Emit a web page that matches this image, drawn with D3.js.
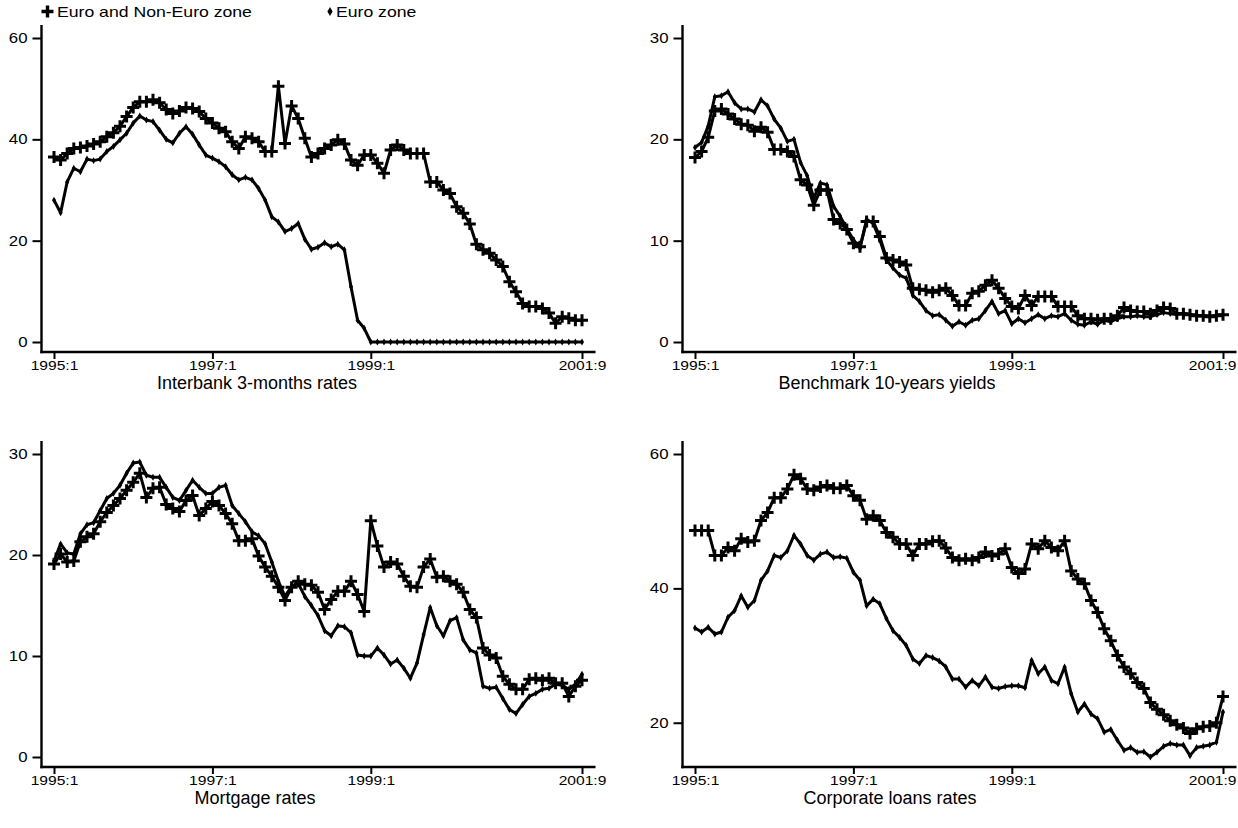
<!DOCTYPE html>
<html><head><meta charset="utf-8">
<script src="https://cdn.jsdelivr.net/npm/d3@7"></script>
<style>
html,body{margin:0;padding:0;background:#fff;}
svg{display:block;font-family:"Liberation Sans",Arial,Helvetica,sans-serif;}
</style></head>
<body><svg id="chart" width="1238" height="828"></svg>
<script>
// ---- data (monthly, 1995:1 .. 2001:9) ----
const seriesNames = ["Euro and Non-Euro zone", "Euro zone"];
const panelTitles = ["Interbank 3-months rates", "Benchmark 10-years yields", "Mortgage rates", "Corporate loans rates"];
const xTickMonths = [0, 24, 48, 80];
const xTickLabels = ["1995:1", "1997:1", "1999:1", "2001:9"];
const yTicksInterbank = [0, 20, 40, 60];
const yTicksBenchmark = [0, 10, 20, 30];
const yTicksMortgage = [0, 10, 20, 30];
const yTicksCorporate = [20, 40, 60];

const interbankAll = [36.5,35.9,37.2,38.2,38.4,38.7,39.1,39.5,40.5,41.3,42.6,44.5,46.3,47.4,47.4,47.8,47.2,45.9,45.1,45.6,46.3,46.1,45.5,44.1,43.2,42.2,41.5,39.5,38.2,40.5,40.2,39.5,37.6,37.6,50.5,39.2,46.6,44.1,40.2,36.5,37.2,38.2,38.9,39.9,39.1,35.9,34.9,36.9,36.9,35.3,33.3,37.9,38.9,37.9,37.2,37.2,37.2,31.6,31.6,30.0,29.3,26.7,25.4,23.3,19.3,18.2,17.5,16.2,14.9,11.9,9.9,7.6,7.0,7.0,6.6,5.7,3.7,5.0,4.7,4.3,4.3];
const interbankEuro = [28.0,25.5,31.6,34.3,33.6,36.1,35.8,36.1,37.6,38.6,39.9,41.2,43.2,44.6,43.8,43.5,41.8,40.0,39.3,41.2,42.5,41.0,38.9,36.9,36.3,35.6,34.6,33.0,32.0,32.5,32.0,30.3,28.0,24.7,23.7,21.8,22.4,23.4,20.3,18.3,18.7,19.6,18.8,19.3,18.2,10.9,4.3,2.7,0,0,0,0,0,0,0,0,0,0,0,0,0,0,0,0,0,0,0,0,0,0,0,0,0,0,0,0,0,0,0,0,0];
const benchmarkAll = [18.2,18.8,20.2,22.8,23.0,22.5,22.0,21.5,21.4,20.8,21.2,20.7,19.0,19.0,18.8,18.3,16.0,15.5,13.5,15.0,15.0,12.1,11.7,11.1,9.75,9.4,11.9,11.9,10.4,8.3,8.1,7.9,7.6,5.3,5.2,5.1,4.9,5.1,5.3,4.6,3.6,3.6,4.8,5.0,5.6,6.1,5.3,4.3,3.5,3.3,4.6,3.6,4.5,4.5,4.5,3.5,3.5,3.5,2.6,2.3,2.3,2.2,2.3,2.3,2.6,3.4,3.1,3.0,3.0,2.8,3.1,3.4,3.3,2.8,2.8,2.7,2.6,2.6,2.5,2.6,2.7];
const benchmarkEuro = [19.2,19.7,21.3,24.2,24.3,24.7,23.6,23.0,23.0,22.7,23.9,23.3,22.0,21.1,19.8,20.0,17.7,16.4,14.2,15.7,15.5,13.4,12.4,11.2,10.1,9.25,12.1,11.7,10.1,8.1,7.3,6.6,6.3,4.6,4.0,3.1,2.6,2.7,2.15,1.55,2.0,1.65,2.15,2.3,3.1,4.0,2.8,3.1,1.8,2.3,1.9,2.3,2.7,2.3,2.6,2.5,2.8,2.15,1.75,1.65,2.0,1.75,2.15,2.0,2.3,2.5,2.5,2.6,2.5,2.5,2.7,2.9,2.8,2.7,2.8,2.7,2.6,2.6,2.5,2.6,2.7];
const mortgageAll = [19.1,20.1,19.3,19.4,21.3,21.8,22.1,23.3,24.2,24.9,25.6,26.4,27.2,28.1,25.7,26.6,26.7,25.0,24.6,24.3,25.4,25.9,23.9,24.6,25.3,24.9,24.1,23.1,21.4,21.4,21.6,19.9,18.8,17.9,16.8,15.5,16.8,17.4,17.1,17.0,16.3,14.6,15.6,16.4,16.4,17.4,16.1,14.4,23.4,20.9,18.8,19.3,19.1,17.9,16.9,16.8,18.8,19.6,17.8,17.9,17.4,17.1,16.3,14.6,13.8,10.8,10.1,9.8,8.0,7.2,6.7,6.7,7.7,7.8,7.6,7.8,7.3,7.3,6.0,7.0,7.6];
const mortgageEuro = [19.4,21.1,20.2,20.1,22.1,23.0,23.2,24.4,25.6,26.1,26.9,28.1,29.1,29.2,27.9,27.7,27.7,26.7,25.7,25.4,26.4,27.4,26.7,26.1,26.1,26.7,26.9,24.9,24.1,23.3,22.3,21.9,21.1,19.3,17.4,15.9,16.9,17.2,15.9,15.0,14.0,12.5,12.0,13.0,12.9,12.3,10.1,10.0,10.0,10.8,10.1,9.2,9.6,8.8,7.8,9.3,12.1,14.8,13.0,12.0,13.5,13.8,11.6,10.6,10.3,7.0,6.8,6.9,5.8,4.7,4.3,5.2,6.0,6.3,6.7,6.8,7.2,7.1,6.7,7.2,8.2];
const corporateAll = [48.6,48.6,48.6,44.9,44.9,46.1,45.6,47.4,46.9,47.1,50.1,51.3,53.5,53.5,54.8,56.9,56.3,54.8,54.6,55.1,55.3,54.9,54.9,55.3,53.8,53.1,50.3,50.8,50.1,48.3,47.6,46.6,46.6,44.9,46.6,46.6,47.0,47.1,46.0,44.6,44.2,44.4,44.2,44.6,45.4,44.8,45.1,45.9,43.1,42.2,42.9,46.6,45.9,47.1,46.1,45.6,47.1,42.6,41.4,40.7,38.2,36.4,34.0,32.2,30.0,28.3,27.3,26.0,25.1,23.0,22.0,21.2,20.3,19.7,19.2,18.4,19.1,19.4,19.5,20.0,23.9];
const corporateEuro = [34.1,33.5,34.2,33.2,33.5,35.7,36.7,38.9,37.2,38.2,41.2,42.6,44.9,44.6,45.6,47.9,46.6,44.9,44.2,45.1,45.4,44.6,44.7,44.5,42.4,41.2,37.4,38.4,37.7,35.5,33.7,32.7,31.5,29.5,28.8,30.0,29.7,29.2,28.3,26.5,26.5,25.3,26.3,25.5,26.8,25.3,25.1,25.4,25.5,25.5,25.2,29.3,27.3,28.3,26.3,25.8,28.3,24.3,21.6,22.8,21.3,20.6,18.6,19.0,17.4,15.9,16.3,15.6,15.7,14.9,15.6,16.5,16.9,16.7,16.7,15.1,16.3,16.5,16.7,17.1,21.6];

// ---- layout ----
const W = 1238;
const SX = 1.2; // horizontal stretch of the reference's small text
const panels = [
  {title: panelTitles[0], all: interbankAll, euro: interbankEuro, ticks: yTicksInterbank, L: 41.5, T: 25, B: 352, tx: 257},
  {title: panelTitles[1], all: benchmarkAll, euro: benchmarkEuro, ticks: yTicksBenchmark, L: 682.5, T: 25, B: 352, tx: 887},
  {title: panelTitles[2], all: mortgageAll, euro: mortgageEuro, ticks: yTicksMortgage, L: 41.5, T: 441, B: 767, tx: 255},
  {title: panelTitles[3], all: corporateAll, euro: corporateEuro, ticks: yTicksCorporate, L: 682.5, T: 441, B: 767, tx: 890}
];

const svg = d3.select("#chart");
const plusPath = "M-6,0H6M0,-6V6";
const diamond = d3.symbol().type(d3.symbolDiamond).size(14);

panels.forEach(p => {
  const g = svg.append("g");
  const nMonths = p.all.length;
  const x = d3.scaleLinear().domain([0, nMonths - 1]).range([p.L + 12.5, p.L + 540.5]);
  const vals = p.all.concat(p.euro).concat(p.ticks);
  const y = d3.scaleLinear().domain([d3.min(vals), d3.max(vals)]).range([p.B - 10, p.T + 13]);

  // axis lines
  g.append("line").attr("x1", p.L).attr("x2", p.L).attr("y1", p.T).attr("y2", p.B + 1.2)
    .attr("stroke", "#000").attr("stroke-width", 2.4);
  g.append("line").attr("x1", p.L - 1.2).attr("x2", p.L + 554).attr("y1", p.B).attr("y2", p.B)
    .attr("stroke", "#000").attr("stroke-width", 2.4);

  // y axis ticks
  const ya = g.append("g").attr("transform", `translate(${p.L},0)`)
    .call(d3.axisLeft(y).tickValues(p.ticks).tickSize(9).tickPadding(5).tickFormat(d3.format("d")));
  ya.select(".domain").remove();
  ya.selectAll(".tick line").attr("stroke-width", 2);
  ya.selectAll("text").attr("font-size", 14).attr("fill", "#000")
    .attr("x", -14 / SX).attr("transform", `scale(${SX},1)`)
    .attr("font-family", "Liberation Sans, Arial, sans-serif");

  // x axis ticks
  const xa = g.append("g").attr("transform", `translate(0,${p.B})`)
    .call(d3.axisBottom(x).tickValues(xTickMonths).tickSize(7).tickPadding(2)
      .tickFormat((d, i) => xTickLabels[i]));
  xa.select(".domain").remove();
  xa.selectAll(".tick line").attr("stroke-width", 2);
  xa.selectAll("text").attr("font-size", 13).attr("fill", "#000")
    .attr("font-family", "Liberation Sans, Arial, sans-serif")
    .attr("transform", `scale(${SX},1)`)
    .each(function (d) {
      // keep labels inside the picture
      const w = this.getComputedTextLength() * SX;
      const cx = x(d);
      const over = cx + w / 2 - (W - 2);
      if (over > 0) d3.select(this).attr("x", -over / SX);
    });

  const line = d3.line().x((d, i) => x(i)).y(d => y(d));

  // Euro zone line + small diamonds
  g.append("path").datum(p.euro).attr("d", line).attr("fill", "none")
    .attr("stroke", "#000").attr("stroke-width", 3).attr("stroke-linejoin", "round");
  g.selectAll(".dm").data(p.euro).join("path").attr("class", "dm")
    .attr("d", diamond).attr("transform", (d, i) => `translate(${x(i)},${y(d)})`).attr("fill", "#000");

  // Euro and Non-Euro line + plus markers
  g.append("path").datum(p.all).attr("d", line).attr("fill", "none")
    .attr("stroke", "#000").attr("stroke-width", 3).attr("stroke-linejoin", "round");
  g.selectAll(".pm").data(p.all).join("path").attr("class", "pm")
    .attr("d", plusPath).attr("transform", (d, i) => `translate(${x(i)},${y(d)})`)
    .attr("stroke", "#000").attr("stroke-width", 3).attr("fill", "none");

  // title
  g.append("text").attr("x", p.tx).attr("y", p.B + 37).attr("text-anchor", "middle")
    .attr("font-size", 18).attr("fill", "#000").text(p.title);
});

// legend
const lg = svg.append("g");
lg.append("path").attr("d", "M-6,0H6M0,-6V6").attr("transform", "translate(47.5,11.5)")
  .attr("stroke", "#000").attr("stroke-width", 3.4);
lg.append("text").attr("transform", "translate(57,16.5) scale(1.26,1)").attr("font-size", 14).text(seriesNames[0]);
lg.append("path").attr("d", d3.symbol().type(d3.symbolDiamond).size(24)).attr("transform", "translate(330,11.5)").attr("fill", "#000");
lg.append("text").attr("transform", "translate(336,16.5) scale(1.26,1)").attr("font-size", 14).text(seriesNames[1]);
</script></body></html>
